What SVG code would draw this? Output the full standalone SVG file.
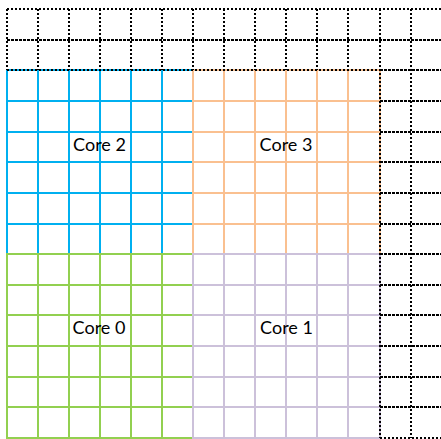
<svg xmlns="http://www.w3.org/2000/svg" width="441" height="439" viewBox="0 0 441 439">
<style>
.g{fill:none;stroke-width:2;stroke-linecap:square}
.b{stroke:#00B0F0}
.o{stroke:#FAC090}
.gr{stroke:#92D050}
.l{stroke:#CCC1DA}
.dot{fill:none;stroke:#000;stroke-width:2;stroke-dasharray:2 2}
.dash{fill:none;stroke:#000;stroke-width:2;stroke-dasharray:3 1}
.t{font-family:Lato,"Liberation Sans",sans-serif;font-size:18px;fill:#000;text-anchor:middle}
</style>
<rect width="441" height="439" fill="#fff"/>
<g id="core2">
<path class="g b" d="M7 70V254M38 70V254M69 70V254M100 70V254M131 70V254M162 70V254M193 70V254M7 70H193M7 101H193M7 132H193M7 162H193M7 193H193M7 224H193M7 254H193"/>
</g>
<g id="core3">
<path class="g o" d="M193 70V254M224 70V254M255 70V254M286 70V254M317 70V254M348 70V254M380 70V254M193 70H380M193 101H380M193 132H380M193 162H380M193 193H380M193 224H380M193 254H380"/>
</g>
<g id="core0">
<path class="g gr" d="M7 254V438M38 254V438M69 254V438M100 254V438M131 254V438M162 254V438M193 254V438M7 254H193M7 285H193M7 315H193M7 346H193M7 377H193M7 407H193M7 438H193"/>
</g>
<g id="core1">
<path class="g l" d="M193 254V438M224 254V438M255 254V438M286 254V438M317 254V438M348 254V438M380 254V438M193 254H380M193 285H380M193 315H380M193 346H380M193 377H380M193 407H380M193 438H380"/>
</g>
<g id="spare">
<path class="dash" d="M7 40H441M380 70H441M380 101H441M380 132H441M380 162H441M380 193H441M380 224H441M380 254H441M380 285H441M380 315H441M380 346H441M380 377H441M380 407H441"/>
<path class="dot" d="M7 9H441M7 70H380M380 438H441M7 9V70M38 9V70M69 9V70M100 9V70M131 9V70M162 9V70M193 9V70M224 9V70M255 9V70M286 9V70M317 9V70M348 9V70M380 9V438M411 9V438"/>
</g>
<g id="labels">
<text class="t" x="99.5" y="151">Core 2</text>
<text class="t" x="286" y="151">Core 3</text>
<text class="t" x="99" y="334">Core 0</text>
<text class="t" x="286.5" y="334">Core 1</text>
</g>
</svg>
